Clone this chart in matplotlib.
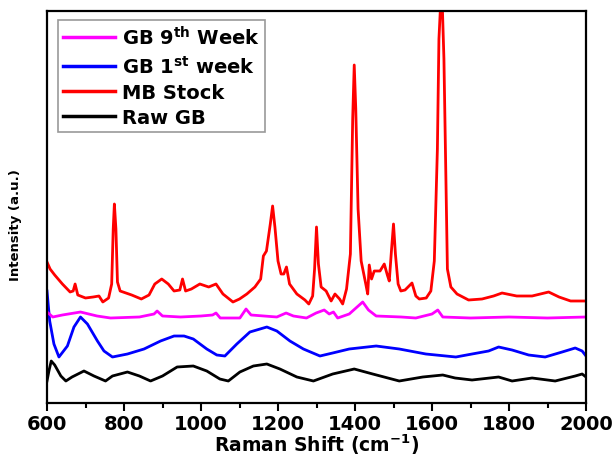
import matplotlib
matplotlib.use('Agg')
import matplotlib.pyplot as plt
from matplotlib.ticker import MultipleLocator

plt.rcParams['font.family'] = ['DejaVu Sans']
plt.rcParams['font.weight'] = 'bold'
plt.rcParams['mathtext.fontset'] = 'dejavusans'
plt.rcParams['mathtext.default'] = 'bf'

# MB Stock (red)
mb_x = [600, 608, 620, 640, 660, 668, 673, 680, 700, 720, 735, 745, 760, 768, 772, 775, 779, 783,
        790, 820, 845, 865, 880, 898, 915, 930, 945, 952, 960, 975, 997, 1020, 1039, 1057, 1083,
        1100, 1119, 1140, 1155, 1162, 1170, 1180, 1186, 1192, 1200, 1208, 1215, 1222, 1230, 1249,
        1270, 1280, 1290, 1295, 1300, 1305, 1312, 1325, 1338, 1348, 1360, 1368, 1378, 1388, 1394,
        1398, 1402, 1408, 1416, 1428, 1433, 1437, 1443, 1450, 1465, 1476, 1484, 1489, 1495, 1500,
        1505, 1512, 1519, 1530, 1548, 1558, 1567, 1585, 1597, 1606, 1614, 1618, 1625, 1631, 1640,
        1649, 1665, 1695, 1730, 1760, 1782, 1820, 1860, 1903, 1930, 1960, 2000]
mb_y = [141, 134, 128, 119, 111, 112, 119, 108, 105, 106, 107, 101, 105, 119, 174, 199, 174, 121,
        112, 108, 104, 108, 119, 124, 119, 112, 113, 124, 112, 114, 119, 116, 119, 109, 101,
        104, 109, 116, 124, 147, 152, 179, 197, 176, 142, 129, 129, 136, 119, 109,
        103, 99, 107, 134, 176, 139, 116, 112, 102, 109, 104, 99, 114, 149, 284,
        338, 294, 194, 142, 119, 109, 138, 124, 132, 132, 139, 128, 122, 154, 179,
        149, 119, 112, 113, 120, 107, 104, 105, 112, 142, 254, 364, 420, 344, 134,
        116, 109, 103, 104, 107, 110, 107, 107, 111, 106, 102, 102]

# GB 9th week (magenta)
w9_x = [600, 615, 640, 687, 730, 765, 840, 878, 886, 900, 947, 1000, 1030, 1039, 1050, 1101, 1117,
        1130, 1197, 1221, 1240, 1274, 1299, 1320, 1333, 1344, 1355, 1385, 1420, 1435, 1455, 1520,
        1558, 1600, 1615, 1628, 1700, 1800, 1900, 2000]
w9_y = [91, 86, 88, 91, 87, 85, 86, 89, 92, 87, 86, 87, 88, 90, 85, 85, 94,
        88, 86, 90, 87, 85, 90, 93, 89, 91, 85, 89, 101, 93, 87, 86,
        85, 89, 93, 86, 85, 86, 85, 86]

# GB 1st week (blue)
w1_x = [600, 607, 618, 631, 653, 670, 687, 705, 731, 748, 770, 809, 852, 895, 930, 956, 980, 1015,
        1041, 1062, 1093, 1127, 1171, 1197, 1231, 1266, 1309, 1342, 1385, 1455, 1515, 1584, 1662,
        1704, 1747, 1773, 1808, 1851, 1894, 1938, 1972, 1990, 2000]
w1_y = [112, 82, 59, 46, 57, 76, 86, 79, 62, 52, 46, 49, 54, 62, 67, 67, 64, 54,
        48, 47, 59, 71, 76, 72, 62, 54, 47, 50, 54, 57, 54, 49, 46,
        49, 52, 56, 53, 48, 46, 51, 55, 52, 47]

# Raw GB (black)
raw_x = [600, 605, 611, 620, 636, 649, 665, 696, 722, 752, 770, 809, 840, 869, 900, 938, 980, 1015,
         1049, 1071, 1101, 1136, 1171, 1205, 1249, 1292, 1342, 1398, 1446, 1515, 1576, 1628, 1660,
         1704, 1773, 1808, 1860, 1920, 1972, 1990, 2000]
raw_y = [22, 32, 42, 38, 27, 22, 26, 32, 27, 22, 27, 31, 27, 22, 27, 36, 37, 32,
         24, 22, 31, 37, 39, 34, 26, 22, 29, 34, 29, 22, 26, 28, 25,
         23, 26, 22, 25, 22, 27, 29, 26]

fig = plt.figure(figsize=(6.14, 4.64), dpi=100)
ax = fig.add_axes([47 / 614, 60 / 464, 539 / 614, 392 / 464])

ax.plot(raw_x, raw_y, color='black', lw=2, label='Raw GB')
ax.plot(w1_x, w1_y, color='#0000ff', lw=2, label='GB 1$^{st}$ week')
ax.plot(w9_x, w9_y, color='#ff00ff', lw=2, label='GB 9$^{th}$ Week')
ax.plot(mb_x, mb_y, color='#ff0000', lw=2, label='MB Stock')

ax.set_xlim(600, 2000)
ax.set_ylim(0, 392)
ax.xaxis.set_major_locator(MultipleLocator(200))
ax.xaxis.set_minor_locator(MultipleLocator(100))
ax.tick_params(axis='x', which='major', direction='out', length=6, width=1.5, labelsize=14, pad=2)
ax.tick_params(axis='x', which='minor', direction='out', length=3.5, width=1.5)
ax.set_yticks([])
for s in ax.spines.values():
    s.set_linewidth(1.6)

ax.set_xlabel('Raman Shift (cm$^{-1}$)', fontsize=13.5, fontweight='bold', labelpad=-1)
ax.set_ylabel('Intensity (a.u.)', fontsize=9.5, fontweight='bold')
ax.yaxis.set_label_coords(-0.046, 0.457)

handles, labels = ax.get_legend_handles_labels()
order = [2, 1, 3, 0]
leg = ax.legend([handles[i] for i in order], [labels[i] for i in order],
                loc='upper left', bbox_to_anchor=((58 - 47) / 539, 1 - (21 - 12) / 392),
                borderaxespad=0, fontsize=14, handlelength=2.7, handletextpad=0.35,
                labelspacing=0.33, borderpad=0.25, fancybox=False, framealpha=1)
leg.get_frame().set_edgecolor('#999999')
leg.get_frame().set_linewidth(1.2)
for line in leg.get_lines():
    line.set_linewidth(2.5)

fig.savefig('out.png', dpi=100)
